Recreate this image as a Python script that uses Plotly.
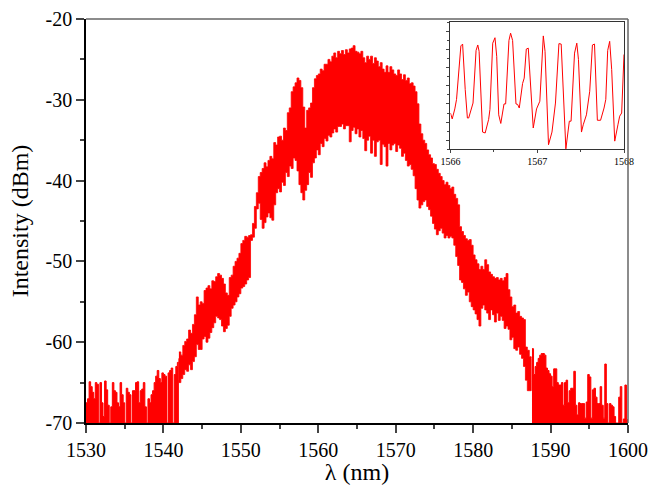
import plotly.graph_objects as go

# left noise floor, 1530-1542 nm, one value every 0.2 nm
wl_left = [1530 + i * 0.2 for i in range(61)]
top_left = [-67.5, -67, -64.9, -65.5, -66.2, -67, -65, -65.2, -70, -65,
            -67.5, -69.2, -64.8, -65.9, -67.8, -70, -68, -65, -66, -66.2,
            -67.5, -68, -65, -66.5, -67.5, -70, -65.7, -66.2, -66.5, -70,
            -66, -66, -65, -64.9, -67.5, -66, -65.8, -65, -68, -70,
            -67, -67.5, -66.5, -66, -65, -64.2, -63.5, -64.5, -65, -63.8,
            -64, -64.2, -70, -63.8, -63.5, -63.2, -70, -64, -63, -62.5, -62]

# main band, 1542-1587.5 nm, every 0.25 nm, four values per line
wl_main = [1542 + i * 0.25 for i in range(183)]
top_main = [-61.2, -61.6, -60.4, -59.9,
            -59.6, -58.5, -58.9, -57.8,
            -56.6, -54.4, -55.4, -55,
            -55.2, -53.6, -53.3, -53,
            -53.4, -52.4, -52.5, -51.9,
            -51.5, -51.7, -52.1, -52.8,
            -53.9, -54.2, -52, -51.7,
            -50.6, -50, -49.6, -49,
            -47.8, -47.4, -46.9, -47,
            -46.8, -46.7, -45.3, -43.2,
            -41.5, -39.5, -39, -38.5,
            -37.8, -38.3, -37.5, -37,
            -37.3, -35.3, -35.6, -34.6,
            -34.5, -35, -33.5, -33.8,
            -31.6, -31, -29, -28.4,
            -27.9, -27.3, -27.6, -28.5,
            -30.9, -33.5, -31.3, -31,
            -30.4, -28.5, -27.4, -27,
            -26.8, -26.2, -26.4, -25.6,
            -25.6, -25, -25.3, -24.6,
            -24.2, -24.8, -24, -24.3,
            -23.9, -24.4, -23.8, -24.2,
            -23.7, -23.6, -23.3, -24,
            -24.1, -24.3, -24, -24.8,
            -25.4, -24.6, -25, -24.6,
            -25.5, -24.8, -25.2, -25.9,
            -25.4, -26.2, -26.6, -25.8,
            -26.6, -25.9, -26.3, -26.8,
            -27, -26.3, -26.8, -27.5,
            -26.9, -27.6, -27.3, -28,
            -27.9, -28.3, -29, -30.5,
            -33, -34.2, -35, -35.4,
            -36.2, -36.8, -37.2, -37.9,
            -38, -38.6, -39.1, -39.5,
            -40, -40.5, -40.2, -40.6,
            -41, -40.8, -41.7, -42.2,
            -43, -45.7, -46.3, -46.8,
            -47.2, -47.4, -47.3, -48,
            -49.2, -49.8, -50.3, -51,
            -50.6, -51, -49.8, -50.4,
            -51.3, -51.6, -51.9, -52.1,
            -52, -52.3, -52.1, -52.4,
            -52, -51.5, -53.5, -54.4,
            -55.6, -55.4, -56.4, -56.2,
            -56.8, -57, -57.2, -60.6,
            -61, -61.8, -62]
bot_main = [-64.7, -65, -64.5, -64,
            -63.4, -63.6, -62.8, -63.4,
            -62.4, -61.8, -60.3, -60.9,
            -60.9, -59.6, -59.3, -60,
            -59.5, -58.8, -58.2, -57.6,
            -56.8, -57, -57.2, -58,
            -58.7, -58.3, -57.9, -56.8,
            -55.8, -55.4, -55, -54.4,
            -54, -53.3, -53.1, -52.8,
            -52.3, -52, -47.4, -47,
            -45.9, -43.5, -42.8, -44.8,
            -45.9, -45.2, -44.5, -44,
            -44.6, -44.9, -43, -41.5,
            -41, -41.4, -40.2, -40.6,
            -39, -39.5, -38.2, -38.5,
            -37.2, -37.5, -38.8, -40.5,
            -41.5, -42.4, -41.2, -40.5,
            -39, -39.6, -37.8, -37.2,
            -36.2, -36.8, -35.4, -35.8,
            -34.8, -35.1, -34.4, -34.6,
            -34.1, -33.6, -34, -33.3,
            -33.3, -33, -33.6, -33.2,
            -33.2, -35.2, -33.8, -33.4,
            -34.2, -33.6, -34.6, -33.8,
            -34.8, -36.3, -35, -34.5,
            -36.6, -35, -37, -35.2,
            -35, -38, -35.5, -35.8,
            -38.2, -35.4, -36.2, -35.6,
            -35.4, -36.4, -35.6, -36,
            -37, -36.6, -37.5, -38.2,
            -38, -38.6, -39.4, -41,
            -42.4, -43.4, -43, -42.6,
            -42.4, -43.2, -43.6, -44.4,
            -45.3, -46, -46.7, -46.2,
            -45.9, -46.5, -47.1, -46.8,
            -47.1, -46.9, -47.1, -48,
            -49.4, -50.5, -52.3, -52.6,
            -53.4, -54.2, -53.8, -55,
            -55.6, -56, -56.5, -57.2,
            -58, -55.8, -55.4, -56,
            -56.4, -57.2, -56, -56.6,
            -57.5, -56.4, -57.3, -56.8,
            -57.3, -58.3, -58, -58.4,
            -59.7, -59.4, -60.8, -61,
            -60.6, -61.5, -62, -63,
            -64.7, -66, -66]

# right noise floor, 1587.6-1600 nm
wl_right = [1587.6 + i * 0.2 for i in range(63)]
top_right = [-60.8, -64, -63, -62.5, -62, -61.6, -61.4, -61.4, -61.6, -63.2,
             -63.5, -63.9, -64.2, -65.5, -63.3, -63.3, -65, -65.3, -65.3, -65,
             -67.8, -65, -64.7, -67.5, -66, -65.7, -65.7, -63.6, -67.8, -69,
             -67.5, -67.6, -67.6, -67.6, -69.4, -67.4, -64, -64.3, -69.4, -65.9,
             -65.7, -66.8, -67.6, -67.6, -65.5, -67.8, -69.4, -62.7, -67.6, -70,
             -67.6, -67.8, -68, -69.2, -70, -70, -66.8, -65.5, -70, -69.5,
             -65.3, -69.6, -70]
floor_db = [-70, -70]

# inset, one stretch of the comb
inset_wl = [1566.00, 1566.02, 1566.05, 1566.07, 1566.12, 1566.14, 1566.17, 1566.195, 1566.21, 1566.26,
            1566.295, 1566.315, 1566.33, 1566.37, 1566.40, 1566.44, 1566.455, 1566.487, 1566.513, 1566.533,
            1566.556, 1566.58, 1566.617, 1566.636, 1566.674, 1566.693, 1566.716, 1566.755, 1566.774, 1566.793,
            1566.831, 1566.85, 1566.874, 1566.897, 1566.954, 1566.992, 1567.03, 1567.07, 1567.09, 1567.13,
            1567.17, 1567.21, 1567.25, 1567.276, 1567.33, 1567.37, 1567.39, 1567.43, 1567.456, 1567.475,
            1567.51, 1567.53, 1567.567, 1567.605, 1567.636, 1567.66, 1567.693, 1567.73, 1567.77, 1567.79,
            1567.812, 1567.835, 1567.858, 1567.893, 1567.93, 1567.95, 1567.973, 1568.0]
inset_db = [-34.0, -34.65, -33.55, -32.5, -26.6, -26.4, -31.4, -34.55, -34.55, -32.9,
            -27.1, -26.5, -27.2, -36.1, -36.2, -34.7, -33.6, -26.3, -25.7, -27.75,
            -34.2, -35.15, -33.0, -33.0, -26.0, -25.2, -26.0, -33.0, -33.05, -33.45,
            -30.75, -30.15, -26.95, -26.85, -35.65, -33.55, -32.7, -25.5, -27.2, -37.5,
            -36.1, -32.9, -26.35, -26.4, -37.95, -34.9, -34.9, -27.4, -26.3, -28.1,
            -36.1, -35.3, -34.2, -31.6, -26.5, -26.4, -34.8, -34.8, -33.45, -32.5,
            -27.1, -26.1, -29.2, -37.1, -35.3, -34.35, -34.0, -27.55]

y_ticks = [-70, -60, -50, -40, -30, -20]
y_labels = ['-70', '-60', '-50', '-40', '-30', '-20']

RED = 'rgb(255, 0, 0)'
FONT = 'Liberation Serif'
no_line = dict(width=0)

data = [
    go.Scatter(x=[wl_left[0], wl_left[-1]], y=floor_db, mode='lines', line=no_line),
    go.Scatter(x=wl_left, y=top_left, mode='lines', fill='tonexty', fillcolor=RED,
               line=dict(color=RED, width=1, shape='hv')),
    go.Scatter(x=[wl_right[0], wl_right[-1]], y=floor_db, mode='lines', line=no_line),
    go.Scatter(x=wl_right, y=top_right, mode='lines', fill='tonexty', fillcolor=RED,
               line=dict(color=RED, width=1, shape='hv')),
    go.Scatter(x=wl_main + wl_main[::-1], y=top_main + bot_main[::-1], mode='lines',
               fill='toself', fillcolor=RED, line=dict(color=RED, width=0.8, shape='hv')),
    go.Scatter(x=inset_wl, y=inset_db, mode='lines', xaxis='x2', yaxis='y2',
               line=dict(color=RED, width=1)),
]

W, H = 651, 485
L, R, T, B = 85.5, 23, 19, 62
plot_w, plot_h = W - L - R, H - T - B
inset_x = [(450.3 - L) / plot_w, (624 - L) / plot_w]
inset_y = [(H - B - 149.3) / plot_h, (H - B - 22.3) / plot_h]

layout = go.Layout(
    width=W, height=H, showlegend=False,
    margin=dict(l=L, r=R, t=T, b=B),
    paper_bgcolor='white', plot_bgcolor='white',
    font=dict(family=FONT, color='black', size=20),
    xaxis=dict(range=[1530, 1600], tick0=1530, dtick=10, ticks='outside', ticklen=8, tickwidth=1.5,
               showgrid=False, zeroline=False, showline=True, linecolor='black', linewidth=1.5,
               automargin=False, minor=dict(dtick=5, ticks='outside', ticklen=4, tickwidth=1.5),
               title=dict(text='λ (nm)')),
    yaxis=dict(range=[-70, -20], tickvals=y_ticks, ticktext=y_labels, ticks='outside', ticklen=8, tickwidth=1.5,
               showgrid=False, zeroline=False, showline=True, linecolor='black', linewidth=1.5,
               automargin=False, minor=dict(dtick=5, ticks='outside', ticklen=4, tickwidth=1.5),
               title=dict(text='Intensity (dBm)', standoff=10)),
    xaxis2=dict(domain=inset_x, anchor='y2', range=[1566, 1568], tick0=1566, dtick=1,
                ticks='outside', ticklen=3, tickwidth=1, tickfont=dict(size=10),
                showgrid=False, zeroline=False, showline=True, linecolor='#333333', linewidth=1,
                mirror=True, automargin=False,
                minor=dict(dtick=0.5, ticks='outside', ticklen=2, tickwidth=1)),
    yaxis2=dict(domain=inset_y, anchor='x2', range=[-38, -24], tick0=-25, dtick=2,
                ticks='outside', ticklen=3, tickwidth=1, showticklabels=False,
                showgrid=False, zeroline=False, showline=True, linecolor='#333333', linewidth=1,
                mirror=True, automargin=False,
                minor=dict(dtick=1, ticks='outside', ticklen=2, tickwidth=1)),
    shapes=[
        dict(type='line', xref='paper', yref='paper', x0=0, x1=1, y0=1, y1=1,
             line=dict(color='#666666', width=1.5)),
        dict(type='line', xref='paper', yref='paper', x0=1, x1=1, y0=0, y1=1,
             line=dict(color='#666666', width=1.5)),
    ],
)
fig = go.Figure(data=data, layout=layout)

# drop the default body margin so the plot sits where it should in the window
fig.write_html('out.html', config={'displayModeBar': False},
               post_script="document.body.style.margin = '0';")
